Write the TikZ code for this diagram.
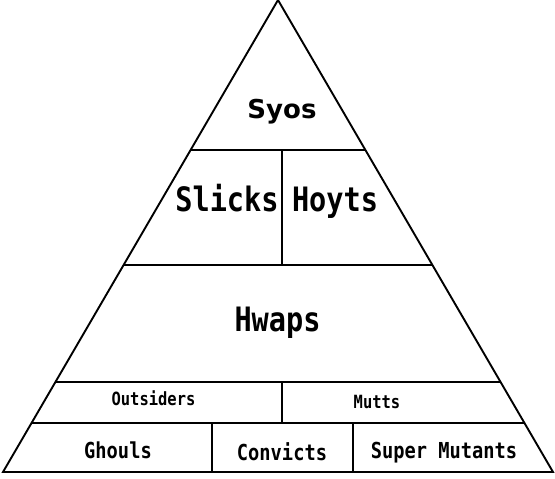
\documentclass[tikz,border=0pt]{standalone}
\usepackage{fontspec}
\setsansfont{DejaVu Sans}
\newfontfamily\monotall[FakeStretch=0.85]{DejaVu Sans Mono}
\usetikzlibrary{calc}

\tikzset{
  tier/.style={anchor=base,inner sep=0pt},
  toptext/.style={tier,font=\sffamily\bfseries\fontsize{26}{28}\selectfont},
  bigtext/.style={tier,font=\monotall\bfseries\fontsize{33.6}{36}\selectfont},
  smalltext/.style={tier,font=\monotall\bfseries\fontsize{18.2}{20}\selectfont},
  basetext/.style={tier,font=\monotall\bfseries\fontsize{22}{24}\selectfont}
}

\begin{document}
\begin{tikzpicture}[x=1pt,y=-1pt,line width=1.9pt]
	\useasboundingbox (0,0) rectangle (555,479);
\coordinate (top) at (278,0);
\coordinate (bl) at (3,472);
\coordinate (br) at (553,472);
\draw (bl) -- (top) -- (br) -- cycle;
% tier lines
\foreach \h in {150,265,382,423}
	\draw ($(top)!\h/472!(bl)$) -- ($(top)!\h/472!(br)$);
\draw (282,150) -- (282,265);
\draw (282,382) -- (282,423);
\draw (212,423) -- (212,472) (353,423) -- (353,472);
	\node[toptext] (syos) at (282,118.3) {Syos};
	\node[bigtext] (slicks) at (227,211.7) {Slicks};
	\node[bigtext] (hoyts) at (335,211.7) {Hoyts};
	\node[bigtext] (hwaps) at (277.5,331.7) {Hwaps};
	\node[smalltext] (outsiders) at (153.5,405) {Outsiders};
	\node[smalltext] (mutts) at (377,408) {Mutts};
	\node[basetext] (ghouls) at (118,458) {Ghouls};
	\node[basetext] (convicts) at (282,460) {Convicts};
	\node[basetext] (supermutants) at (444,458) {Super Mutants};
	\end{tikzpicture}
\end{document}
